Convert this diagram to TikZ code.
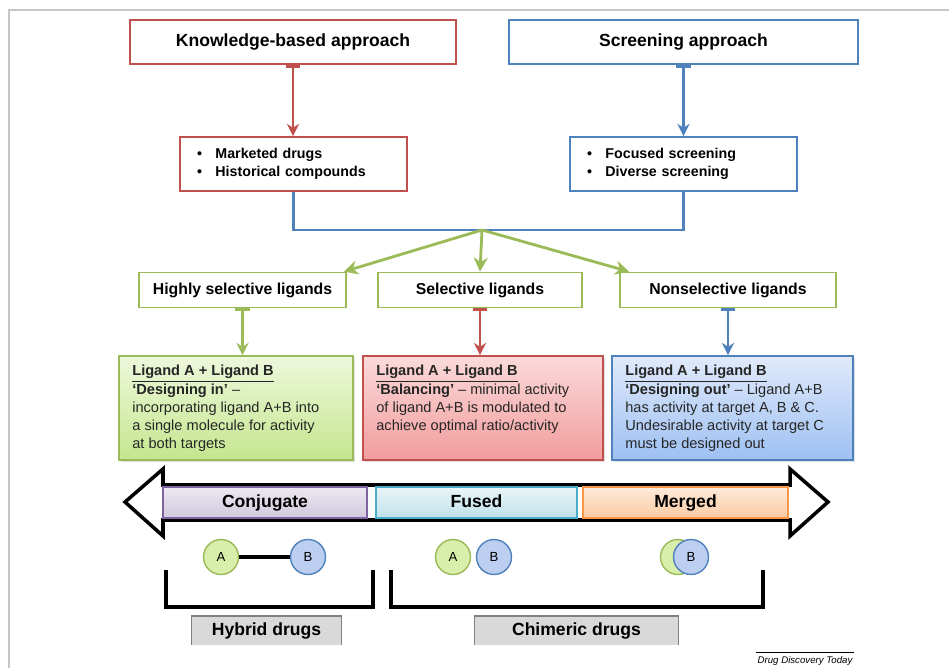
\documentclass[tikz,border=0pt]{standalone}
\usepackage{fontspec}
\setmainfont{Liberation Sans}
\usetikzlibrary{arrows.meta,shadows}
\definecolor{kred}{HTML}{C0504D}
\definecolor{sblue}{HTML}{4F81BD}
\definecolor{lgreen}{HTML}{9BBB59}
\definecolor{cpurple}{HTML}{8064A2}
\definecolor{fcyan}{HTML}{4BACC6}
\definecolor{morange}{HTML}{F79646}
\definecolor{gtop}{HTML}{EEF8DC}
\definecolor{gbot}{HTML}{C4E68E}
\definecolor{rtop}{HTML}{FBDADA}
\definecolor{rbot}{HTML}{F29C9C}
\definecolor{btop}{HTML}{E0EAFB}
\definecolor{bbot}{HTML}{9EC0F2}
\definecolor{molgreen}{HTML}{D8EEAA}
\definecolor{molblue}{HTML}{BCCFF0}
\tikzset{
	topbox/.style={draw, line width=1.2pt, fill=white, minimum height=0.88cm, font=\bfseries\fontsize{10}{12}\selectfont},
	listbox/.style={draw, line width=1pt, fill=white, minimum height=1.08cm, text width=3.86cm, inner xsep=0.34cm, align=left, font=\bfseries\fontsize{8.1}{10.2}\selectfont},
	ligbox/.style={draw=lgreen, line width=1pt, fill=white, minimum height=0.7cm, font=\bfseries\fontsize{9}{11}\selectfont},
	stratbox/.style={draw=#1, line width=1pt, minimum height=2.08cm, drop shadow={shadow xshift=1pt, shadow yshift=-1pt, opacity=0.25}},
	strattext/.style={anchor=north west, inner sep=0pt, align=left, font=\fontsize{8.3}{10.3}\selectfont, text=black!85},
	band/.style={draw=#1, line width=0.8pt, minimum height=0.58cm, text height=1.6ex, text depth=0.45ex, font=\bfseries\fontsize{10}{12}\selectfont},
	mol/.style={circle, draw=#1, line width=0.8pt, minimum size=0.7cm, inner sep=0pt, font=\fontsize{7.5}{9}\selectfont},
	druglabel/.style={fill=black!15, minimum height=0.54cm, font=\bfseries\fontsize{10}{12}\selectfont},
	link/.style={line width=1.4pt, {Bar[width=8pt,line width=1.6pt]}-{Stealth[length=7pt,width=7pt]}},
}
\newcommand{\lig}{\underline{\textbf{Ligand A + Ligand B}}}
\newcommand{\itm}[1]{\makebox[10.5pt][l]{\textbullet}#1}
\begin{document}
\begin{tikzpicture}[x=0.02cm, y=-0.02cm]
		%%%%% START %%%%%
		\useasboundingbox[fill=white] (0,0) rectangle (949,668);
		\draw[gray!45, line width=0.8pt] (9,668) -- (9,10) -- (949,10);
		
		% approaches
		\node[topbox, draw=kred, minimum width=6.52cm] (know) at (293,42) {Knowledge-based approach};
		\node[topbox, draw=sblue, minimum width=6.98cm] (scr) at (683.5,42) {Screening approach};
		
		\node[listbox, draw=kred] (mkt) at (293.5,164) {\itm{Marketed drugs}\\ \itm{Historical compounds}};
		\node[listbox, draw=sblue] (foc) at (683.5,164) {\itm{Focused screening}\\ \itm{Diverse screening}};
		
		\draw[link, kred] (know.south) -- (know.south |- mkt.north);
		\draw[link, sblue] (scr.south) -- (scr.south |- foc.north);
		
		\coordinate (hub) at (482,230);
		\draw[sblue, line width=1.5pt] (mkt.south) |- (hub) -| (foc.south);
		
		% ligands
		\node[ligbox, minimum width=4.14cm] (hs) at (242.5,290) {Highly selective ligands};
		\node[ligbox, minimum width=4.08cm] (sel) at (480,290) {Selective ligands};
		\node[ligbox, minimum width=4.32cm] (ns) at (728,290) {Nonselective ligands};
		
		\draw[lgreen, line width=1.6pt, -{Stealth[length=8pt,width=8pt]}] (hub) -- ([xshift=-0.06cm]hs.north east);
		\draw[lgreen, line width=1.6pt, -{Stealth[length=8pt,width=8pt]}] (hub) -- (sel.north);
		\draw[lgreen, line width=1.6pt, -{Stealth[length=8pt,width=8pt]}] (hub) -- ([xshift=0.2cm]ns.north west);
		
		% strategies
		\node[stratbox=lgreen, top color=gtop, bottom color=gbot, minimum width=4.68cm] (gbox) at (236,408) {};
		\node[stratbox=kred, top color=rtop, bottom color=rbot, minimum width=4.8cm] (rbox) at (483,408) {};
		\node[stratbox=sblue, top color=btop, bottom color=bbot, minimum width=4.82cm] (bbox) at (732.5,408) {};
		
		\node[strattext] (gtxt) at (132,365) {\lig\\ \textbf{‘Designing in’} –\\ incorporating ligand A+B into\\ a single molecule for activity\\ at both targets};
		\node[strattext] (rtxt) at (376,365) {\lig\\ \textbf{‘Balancing’} – minimal activity\\ of ligand A+B is modulated to\\ achieve optimal ratio/activity};
		\node[strattext] (btxt) at (625,365) {\lig\\ \textbf{‘Designing out’} – Ligand A+B\\ has activity at target A, B \& C.\\ Undesirable activity at target C\\ must be designed out};
		
		\draw[link, lgreen] (hs.south) -- (hs.south |- gbox.north);
		\draw[link, kred] (sel.south) -- (sel.south |- rbox.north);
		\draw[link, sblue] (ns.south) -- (ns.south |- bbox.north);
		
		% double arrow
		\draw[line width=2pt, fill=white] (125,502) -- (163,469) -- (163,485) -- (790,485) -- (790,469) -- (828,502) -- (790,536) -- (790,520) -- (163,520) -- (163,536) -- cycle;
		\node[band=cpurple, top color=cpurple!15, bottom color=cpurple!35, minimum width=4.08cm] (conj) at (265,502.5) {Conjugate};
		\node[band=fcyan, top color=fcyan!12, bottom color=fcyan!35, minimum width=4.02cm] (fused) at (476.5,502.5) {Fused};
		\node[band=morange, top color=morange!20, bottom color=morange!50, minimum width=4.1cm] (merged) at (685.5,502.5) {Merged};
		
		% molecules
		\node[mol=lgreen, fill=molgreen] (ca) at (221,557) {A};
		\node[mol=sblue, fill=molblue] (cb) at (308,557) {B};
		\draw[line width=2pt] (ca) -- (cb);
		
		\node[mol=lgreen, fill=molgreen] (fa) at (453,557) {A};
		\node[mol=sblue, fill=molblue] (fb) at (494,557) {B};
		
		\node[mol=lgreen, fill=molgreen] (ma) at (678,557) {};
		\node[mol=sblue, fill=molblue] (mb) at (691,557) {B};
		
		% brackets
		\draw[line width=2pt] (166,570) |- (373,607) -- (373,570);
		\draw[line width=2pt] (391,570) |- (763,607) -- (763,570);
		
		\node[druglabel, minimum width=2.98cm] (hyb) at (266.5,630.5) {Hybrid drugs};
		\node[druglabel, minimum width=4.06cm] (chim) at (576.5,630.5) {Chimeric drugs};
		\draw[gray, line width=0.8pt] (hyb.south west) |- (hyb.north east) -- (hyb.south east);
		\draw[gray, line width=0.8pt] (chim.south west) |- (chim.north east) -- (chim.south east);
		
		\node[font=\itshape\fontsize{5.5}{6}\selectfont, inner sep=1pt] (ddt) at (805,661) {Drug Discovery Today};
		\draw[line width=0.6pt] ([yshift=1pt]ddt.north west) -- ([yshift=1pt]ddt.north east);
		
		%%%%% END %%%%%
	\end{tikzpicture}
\end{document}
